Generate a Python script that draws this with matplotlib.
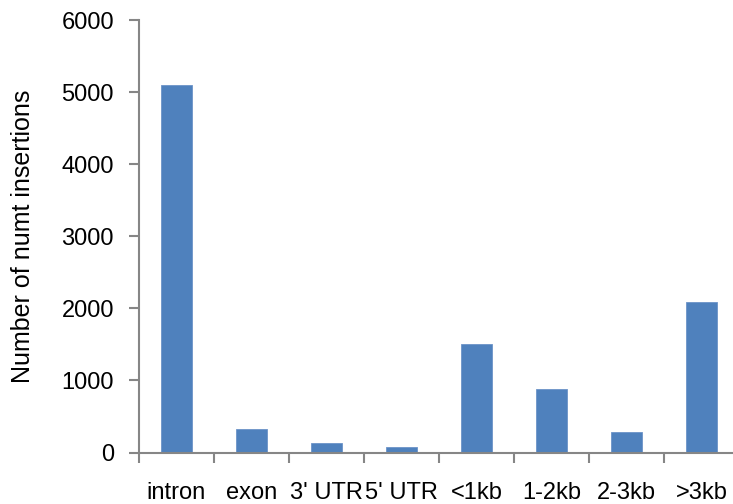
import matplotlib
matplotlib.use("Agg")
import matplotlib.pyplot as plt
import numpy as np

categories = ["intron", "exon", "3' UTR", "5' UTR", "<1kb", "1-2kb", "2-3kb", ">3kb"]
insertions = [5100, 320, 130, 75, 1510, 875, 290, 2090]
y_ticks = [0, 1000, 2000, 3000, 4000, 5000, 6000]

plt.rcParams["font.family"] = ["Liberation Sans", "DejaVu Sans"]

fig = plt.figure(figsize=(7.33, 5.04), dpi=100)
# axis spans slightly past the right edge of the canvas
ax = fig.add_axes([139 / 733, (504 - 452.5) / 504, 600 / 733, (452.5 - 20) / 504])

x = np.arange(len(categories))
ax.bar(x, insertions, width=0.41, color="#4F81BD", edgecolor="#6C93C8", linewidth=0.6, zorder=2)

ax.set_xlim(-0.5, len(categories) - 0.5)
ax.set_ylim(0, 6000)
ax.set_yticks(y_ticks)
ax.set_yticklabels([str(v) for v in y_ticks], fontsize=17)

# category ticks sit on the boundaries between bars
ax.set_xticks(np.arange(-0.5, len(categories) + 0.5, 1.0))
ax.set_xticklabels([])
ax.set_xticks(x, minor=True)
ax.set_xticklabels(categories, minor=True, fontsize=17)
ax.tick_params(axis="x", which="minor", length=0, pad=21)
ax.tick_params(axis="x", which="major", direction="out", length=7, width=1.5, color="#868686")
ax.tick_params(axis="y", direction="out", length=7, width=1.5, color="#868686", pad=11)

for side in ("top", "right"):
    ax.spines[side].set_visible(False)
for side in ("left", "bottom"):
    ax.spines[side].set_color("#868686")
    ax.spines[side].set_linewidth(1.5)

ax.set_ylabel("Number of numt insertions", fontsize=18)
ax.yaxis.set_label_coords(-104 / 600, 0.5)

fig.savefig("out.png", dpi=100)
